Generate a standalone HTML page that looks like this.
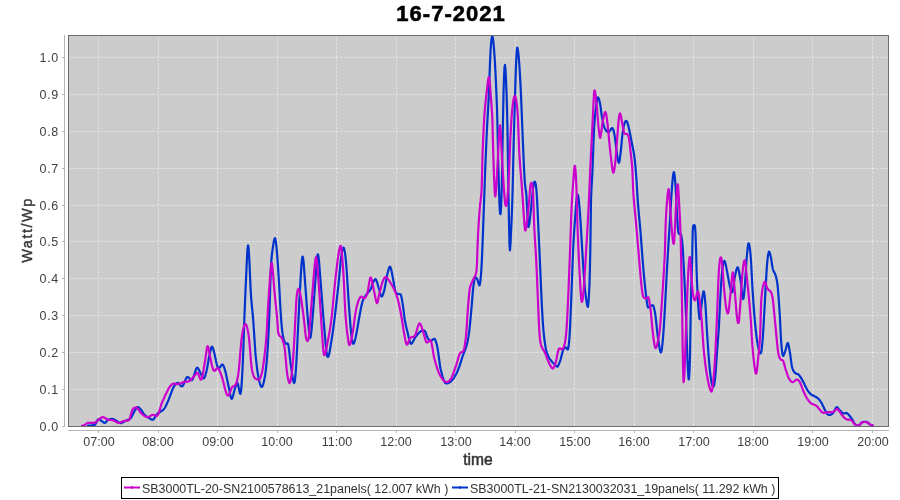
<!DOCTYPE html>
<html><head><meta charset="utf-8"><title>16-7-2021</title>
<style>
html,body{margin:0;padding:0;background:#fff;}
body{width:900px;height:500px;position:relative;overflow:hidden;font-family:"Liberation Sans",sans-serif;color:#404040;}
#title{position:absolute;left:1px;width:900px;top:0.6px;text-align:center;font-weight:bold;font-size:22px;line-height:26px;color:#000;letter-spacing:1.0px;-webkit-text-stroke:0.6px #000;}
svg{position:absolute;left:0;top:0;}
#title,.xl,.yl,#xlab,#ylab,#legend span{will-change:transform;}
.g{stroke:#fff;stroke-width:1;stroke-dasharray:2 2;opacity:.56}
.a{stroke:#b4b4b4;stroke-width:1;shape-rendering:crispEdges}
.xl{position:absolute;top:434.6px;width:60px;text-align:center;font-size:12.5px;line-height:14px;}
.yl{position:absolute;left:20.7px;width:38px;text-align:right;font-size:12.5px;letter-spacing:0.7px;line-height:14px;}
#xlab{position:absolute;left:427.8px;width:100px;top:451.2px;text-align:center;font-size:15.6px;line-height:18px;color:#333;-webkit-text-stroke:0.5px #333;}
#ylab{position:absolute;left:-22.8px;top:221px;width:100px;height:18px;text-align:center;font-size:14.5px;letter-spacing:1.5px;line-height:18px;transform:rotate(-90deg);color:#333;-webkit-text-stroke:0.35px #333;}
#legend{position:absolute;left:121px;top:477px;width:656px;height:20px;border:1px solid #000;background:transparent;}
#legend span{position:absolute;top:4px;font-size:12.45px;line-height:14px;white-space:nowrap;color:#333;}
#legend i{position:absolute;top:9px;height:2px;width:16px;}
</style></head><body>
<div id="title">16-7-2021</div>
<svg width="900" height="500" viewBox="0 0 900 500">
<rect x="68" y="35" width="821" height="392" fill="#cccccc"/>
<line x1="98.5" y1="35.5" x2="98.5" y2="426" class="g"/><line x1="158.5" y1="35.5" x2="158.5" y2="426" class="g"/><line x1="217.5" y1="35.5" x2="217.5" y2="426" class="g"/><line x1="277.5" y1="35.5" x2="277.5" y2="426" class="g"/><line x1="336.5" y1="35.5" x2="336.5" y2="426" class="g"/><line x1="396.5" y1="35.5" x2="396.5" y2="426" class="g"/><line x1="455.5" y1="35.5" x2="455.5" y2="426" class="g"/><line x1="515.5" y1="35.5" x2="515.5" y2="426" class="g"/><line x1="574.5" y1="35.5" x2="574.5" y2="426" class="g"/><line x1="634.5" y1="35.5" x2="634.5" y2="426" class="g"/><line x1="693.5" y1="35.5" x2="693.5" y2="426" class="g"/><line x1="753.5" y1="35.5" x2="753.5" y2="426" class="g"/><line x1="812.5" y1="35.5" x2="812.5" y2="426" class="g"/><line x1="872.5" y1="35.5" x2="872.5" y2="426" class="g"/><line x1="68.5" y1="426.5" x2="888" y2="426.5" class="g"/><line x1="68.5" y1="389.5" x2="888" y2="389.5" class="g"/><line x1="68.5" y1="352.5" x2="888" y2="352.5" class="g"/><line x1="68.5" y1="315.5" x2="888" y2="315.5" class="g"/><line x1="68.5" y1="278.5" x2="888" y2="278.5" class="g"/><line x1="68.5" y1="241.5" x2="888" y2="241.5" class="g"/><line x1="68.5" y1="205.5" x2="888" y2="205.5" class="g"/><line x1="68.5" y1="168.5" x2="888" y2="168.5" class="g"/><line x1="68.5" y1="131.5" x2="888" y2="131.5" class="g"/><line x1="68.5" y1="94.5" x2="888" y2="94.5" class="g"/><line x1="68.5" y1="57.5" x2="888" y2="57.5" class="g"/>
<path d="M88.0 425.6 L88.5 425.6 L89.0 425.6 L89.5 425.6 L90.0 425.6 L90.5 425.5 L91.0 425.5 L91.3 425.5 L91.5 425.5 L92.0 425.4 L92.5 425.4 L93.0 425.3 L93.5 425.1 L94.0 425.0 L94.5 424.8 L94.9 424.7 L95.0 424.7 L95.5 424.1 L96.0 423.2 L96.5 422.1 L97.0 421.0 L97.5 420.1 L98.0 419.4 L98.4 419.3 L98.5 419.3 L99.0 419.4 L99.5 419.7 L100.0 419.9 L100.5 420.2 L101.0 420.5 L101.5 420.8 L102.0 421.2 L102.5 421.6 L103.0 422.0 L103.5 422.4 L104.0 422.7 L104.5 422.9 L104.7 422.9 L105.0 422.9 L105.5 422.6 L106.0 422.1 L106.5 421.4 L107.0 420.8 L107.5 420.2 L108.0 419.8 L108.2 419.7 L108.5 419.6 L109.0 419.4 L109.5 419.3 L110.0 419.2 L110.5 419.0 L111.0 419.0 L111.5 418.9 L112.0 418.9 L112.5 419.0 L112.7 419.0 L113.0 419.1 L113.5 419.2 L114.0 419.5 L114.5 419.7 L115.0 420.0 L115.5 420.3 L116.0 420.5 L116.5 420.8 L117.0 421.1 L117.5 421.5 L118.0 421.9 L118.5 422.3 L119.0 422.6 L119.5 422.9 L120.0 423.1 L120.5 423.2 L120.7 423.2 L121.0 423.2 L121.5 423.0 L122.0 422.8 L122.5 422.6 L123.0 422.3 L123.5 422.0 L124.0 421.7 L124.5 421.4 L125.0 421.1 L125.1 421.1 L125.5 420.9 L126.0 420.7 L126.5 420.5 L127.0 420.2 L127.5 420.0 L128.0 419.8 L128.5 419.5 L129.0 419.3 L129.5 419.0 L130.0 418.7 L130.4 418.4 L130.5 418.3 L131.0 417.8 L131.5 417.0 L132.0 416.0 L132.5 414.9 L133.0 413.9 L133.5 412.9 L134.0 412.0 L134.5 411.2 L135.0 410.3 L135.5 409.5 L136.0 408.7 L136.5 408.1 L137.0 407.6 L137.5 407.2 L137.6 407.2 L138.0 407.2 L138.5 407.3 L139.0 407.6 L139.5 408.0 L140.0 408.5 L140.2 408.7 L140.5 409.0 L141.0 409.6 L141.5 410.4 L142.0 411.1 L142.5 411.9 L143.0 412.7 L143.5 413.5 L144.0 414.1 L144.5 414.7 L144.7 414.9 L145.0 415.2 L145.5 415.6 L146.0 416.0 L146.5 416.4 L147.0 416.7 L147.5 417.1 L148.0 417.4 L148.5 417.7 L149.0 418.0 L149.5 418.3 L150.0 418.6 L150.5 419.0 L151.0 419.2 L151.5 419.5 L152.0 419.6 L152.5 419.7 L152.7 419.7 L153.0 419.6 L153.5 419.3 L154.0 418.7 L154.5 418.0 L155.0 417.2 L155.5 416.3 L156.0 415.5 L156.5 414.7 L157.0 414.1 L157.1 414.0 L157.5 413.6 L158.0 413.2 L158.5 412.9 L159.0 412.5 L159.5 412.3 L160.0 412.0 L160.5 411.7 L161.0 411.4 L161.5 411.1 L162.0 410.8 L162.5 410.4 L163.0 410.0 L163.5 409.5 L164.0 408.9 L164.2 408.7 L164.5 408.3 L165.0 407.5 L165.5 406.6 L166.0 405.6 L166.5 404.5 L167.0 403.4 L167.5 402.3 L167.8 401.6 L168.0 401.2 L168.5 400.0 L169.0 398.7 L169.5 397.4 L170.0 396.1 L170.5 394.7 L171.0 393.4 L171.5 392.1 L172.0 390.8 L172.5 389.5 L173.0 388.4 L173.5 387.3 L174.0 386.4 L174.5 385.6 L175.0 384.9 L175.5 384.3 L176.0 383.8 L176.5 383.4 L177.0 383.1 L177.5 382.9 L177.6 382.9 L178.0 382.9 L178.5 383.2 L179.0 383.7 L179.5 384.3 L180.0 384.9 L180.5 385.5 L181.0 386.0 L181.5 386.3 L182.0 386.4 L182.5 386.1 L183.0 385.5 L183.5 384.6 L184.0 383.4 L184.5 382.2 L185.0 380.9 L185.5 379.7 L186.0 378.6 L186.5 377.7 L187.0 377.2 L187.3 377.0 L187.5 377.0 L188.0 377.1 L188.5 377.4 L189.0 377.9 L189.5 378.5 L190.0 379.1 L190.5 379.6 L191.0 380.0 L191.5 380.2 L191.8 380.2 L192.0 380.1 L192.5 379.5 L193.0 378.5 L193.5 377.2 L194.0 375.6 L194.5 373.9 L195.0 372.3 L195.5 370.7 L196.0 369.3 L196.5 368.3 L197.0 367.8 L197.5 367.7 L197.6 367.8 L198.0 368.2 L198.5 369.0 L199.0 370.0 L199.5 371.0 L200.0 372.1 L200.5 373.1 L200.7 373.5 L201.0 374.1 L201.5 375.1 L202.0 376.1 L202.5 377.0 L203.0 377.8 L203.5 378.3 L204.0 378.3 L204.5 377.6 L205.0 376.4 L205.5 374.8 L206.0 372.9 L206.5 371.0 L207.0 368.8 L207.5 366.1 L208.0 363.2 L208.5 360.2 L209.0 357.4 L209.5 355.0 L210.0 352.7 L210.5 350.4 L211.0 348.4 L211.5 347.1 L212.0 346.6 L212.5 347.1 L213.0 348.4 L213.5 350.1 L214.0 352.0 L214.5 354.0 L215.0 356.1 L215.5 358.5 L216.0 361.0 L216.5 363.2 L217.0 365.0 L217.5 366.4 L218.0 367.4 L218.5 368.0 L218.8 368.2 L219.0 368.2 L219.5 367.9 L220.0 367.3 L220.5 366.5 L221.0 365.7 L221.5 365.0 L222.0 364.6 L222.4 364.6 L222.5 364.6 L223.0 365.1 L223.5 365.9 L224.0 367.0 L224.5 368.4 L225.0 370.1 L225.1 370.4 L225.5 371.9 L226.0 374.1 L226.5 376.4 L227.0 378.9 L227.5 381.3 L228.0 383.7 L228.5 386.0 L229.0 388.3 L229.5 390.9 L230.0 393.4 L230.5 395.7 L231.0 397.5 L231.5 398.6 L231.8 398.8 L232.0 398.7 L232.5 397.8 L233.0 396.0 L233.5 393.9 L234.0 391.8 L234.5 390.0 L235.0 388.5 L235.5 387.0 L236.0 385.5 L236.5 384.2 L237.0 383.3 L237.2 383.0 L237.5 383.0 L238.0 384.3 L238.5 386.6 L239.0 389.3 L239.5 391.8 L240.0 393.5 L240.4 393.8 L240.5 393.7 L241.0 391.2 L241.5 385.9 L242.0 378.4 L242.5 369.0 L243.0 358.3 L243.1 356.0 L243.5 344.9 L244.0 328.8 L244.3 320.0 L244.5 314.8 L245.0 302.3 L245.5 290.6 L245.8 284.0 L246.0 279.6 L246.5 268.1 L247.0 257.3 L247.5 249.1 L248.0 245.4 L248.1 245.3 L248.5 247.4 L249.0 254.1 L249.5 264.0 L250.0 275.4 L250.5 286.4 L251.0 295.6 L251.2 298.4 L251.5 301.9 L252.0 307.1 L252.5 312.2 L253.0 317.6 L253.2 320.0 L253.5 324.0 L254.0 331.5 L254.5 339.4 L255.0 347.1 L255.5 353.8 L255.7 356.0 L256.0 359.0 L256.5 363.6 L257.0 367.8 L257.5 371.5 L258.0 374.7 L258.5 377.5 L259.0 379.9 L259.3 381.2 L259.5 382.0 L260.0 383.8 L260.5 385.3 L261.0 386.4 L261.5 387.0 L261.6 387.0 L262.0 386.8 L262.5 386.1 L263.0 384.8 L263.5 383.0 L264.0 380.9 L264.5 378.6 L264.7 377.6 L265.0 376.0 L265.5 372.6 L266.0 368.5 L266.5 363.6 L267.0 357.8 L267.5 351.3 L267.8 347.0 L268.0 343.8 L268.5 334.0 L269.0 322.4 L269.5 310.0 L270.0 294.9 L270.5 278.3 L271.0 266.0 L271.5 258.9 L272.0 253.8 L272.5 250.0 L272.8 248.0 L273.0 246.7 L273.5 243.4 L274.0 240.6 L274.5 238.7 L275.0 238.1 L275.5 239.5 L276.0 242.9 L276.5 247.7 L277.0 253.4 L277.3 257.0 L277.5 259.5 L278.0 266.5 L278.5 274.2 L279.0 282.3 L279.1 284.0 L279.5 291.3 L280.0 301.2 L280.5 310.0 L281.0 317.3 L281.5 323.7 L282.0 329.1 L282.5 333.2 L282.7 334.4 L283.0 336.0 L283.5 338.2 L284.0 340.1 L284.5 341.7 L285.0 342.8 L285.4 343.4 L285.5 343.5 L286.0 343.7 L286.5 343.5 L287.0 343.3 L287.5 343.3 L288.0 344.1 L288.1 344.3 L288.5 346.0 L289.0 349.4 L289.5 353.7 L290.0 358.4 L290.5 362.8 L290.8 365.0 L291.0 366.4 L291.5 369.9 L292.0 373.3 L292.5 376.6 L293.0 379.4 L293.5 381.6 L294.0 383.0 L294.5 382.6 L295.0 379.7 L295.5 374.7 L296.0 368.1 L296.2 365.0 L296.5 359.9 L297.0 350.2 L297.5 339.7 L298.0 329.1 L298.2 325.0 L298.5 318.9 L299.0 308.5 L299.5 298.5 L299.8 293.0 L300.0 289.4 L300.5 280.5 L301.0 271.9 L301.5 264.6 L302.0 259.3 L302.5 256.6 L302.9 257.0 L303.0 257.5 L303.5 261.4 L304.0 267.3 L304.5 274.3 L305.0 281.4 L305.2 284.0 L305.5 287.9 L306.0 294.8 L306.5 301.8 L307.0 308.7 L307.5 315.2 L307.9 320.0 L308.0 321.1 L308.5 326.8 L309.0 331.9 L309.5 335.8 L310.0 337.8 L310.2 338.0 L310.5 337.4 L311.0 334.6 L311.5 330.1 L312.0 324.6 L312.4 320.0 L312.5 318.8 L313.0 312.6 L313.5 305.9 L314.0 298.9 L314.5 291.9 L315.0 285.3 L315.1 284.0 L315.5 278.7 L316.0 271.5 L316.5 264.7 L317.0 258.9 L317.5 255.2 L317.8 254.3 L318.0 254.4 L318.5 256.7 L319.0 261.3 L319.5 267.5 L320.0 274.1 L320.5 280.4 L321.0 286.5 L321.5 293.0 L322.0 299.6 L322.5 306.3 L323.0 312.8 L323.5 318.9 L323.6 320.0 L324.0 324.7 L324.5 330.7 L325.0 336.7 L325.5 342.3 L326.0 347.4 L326.5 351.7 L327.0 354.9 L327.5 356.6 L327.7 356.9 L328.0 356.9 L328.5 356.1 L329.0 354.5 L329.5 352.2 L330.0 349.5 L330.5 346.5 L331.0 343.4 L331.3 341.6 L331.5 340.4 L332.0 337.3 L332.5 334.0 L333.0 330.5 L333.5 326.9 L334.0 323.1 L334.4 320.0 L334.5 319.2 L335.0 315.1 L335.5 310.9 L336.0 306.6 L336.5 302.2 L337.0 297.7 L337.5 293.2 L338.0 288.6 L338.5 284.0 L339.0 279.1 L339.5 273.7 L340.0 268.3 L340.5 263.2 L341.0 258.6 L341.2 257.0 L341.5 254.9 L342.0 251.8 L342.5 249.6 L343.0 248.1 L343.5 247.6 L344.0 248.2 L344.5 250.1 L345.0 253.1 L345.5 257.1 L346.0 262.0 L346.5 268.1 L347.0 275.3 L347.5 283.3 L348.0 291.4 L348.5 299.3 L348.9 305.0 L349.0 306.4 L349.5 313.2 L350.0 319.9 L350.5 326.2 L351.0 331.6 L351.2 333.4 L351.5 335.9 L352.0 339.5 L352.5 342.1 L353.0 343.6 L353.4 343.8 L353.5 343.7 L354.0 343.0 L354.5 341.7 L355.0 340.0 L355.5 338.0 L356.0 335.7 L356.1 335.2 L356.5 333.2 L357.0 330.5 L357.5 327.6 L358.0 324.7 L358.5 321.7 L359.0 318.8 L359.5 316.0 L360.0 313.3 L360.5 310.5 L361.0 307.9 L361.5 305.6 L362.0 303.5 L362.5 301.8 L363.0 300.2 L363.5 299.0 L363.8 298.4 L364.0 298.0 L364.5 297.2 L365.0 296.5 L365.5 295.8 L366.0 295.1 L366.5 294.4 L366.9 293.9 L367.0 293.8 L367.5 293.1 L368.0 292.5 L368.5 292.0 L369.0 291.4 L369.5 290.8 L370.0 290.1 L370.5 289.4 L371.0 288.4 L371.5 287.0 L372.0 285.4 L372.5 283.9 L373.0 282.6 L373.2 282.2 L373.5 281.6 L374.0 280.7 L374.5 279.9 L375.0 279.3 L375.5 279.2 L375.9 279.5 L376.0 279.6 L376.5 280.7 L377.0 282.1 L377.5 283.8 L378.0 285.6 L378.5 287.3 L378.6 287.6 L379.0 288.9 L379.5 290.8 L380.0 292.6 L380.5 294.3 L381.0 295.7 L381.3 296.2 L381.5 296.4 L382.0 296.4 L382.5 295.6 L383.0 294.4 L383.5 292.8 L384.0 291.2 L384.5 289.3 L385.0 286.8 L385.5 284.1 L386.0 281.2 L386.5 278.4 L387.0 275.8 L387.5 273.6 L387.6 273.2 L388.0 271.7 L388.5 269.8 L389.0 268.2 L389.5 267.0 L390.0 266.7 L390.3 266.9 L390.5 267.3 L391.0 268.8 L391.5 270.9 L392.0 273.5 L392.5 276.1 L393.0 278.6 L393.5 281.2 L394.0 284.2 L394.5 287.1 L395.0 289.7 L395.5 291.6 L395.7 292.1 L396.0 292.6 L396.5 293.2 L397.0 293.5 L397.5 293.7 L398.0 293.9 L398.5 294.0 L399.0 294.1 L399.5 294.1 L400.0 294.2 L400.5 294.4 L400.6 294.5 L401.0 295.2 L401.5 297.2 L402.0 299.9 L402.5 303.1 L402.9 305.6 L403.0 306.2 L403.5 310.0 L404.0 314.2 L404.5 318.1 L404.8 320.0 L405.0 321.1 L405.5 323.6 L406.0 325.9 L406.5 328.0 L407.0 330.0 L407.4 331.6 L407.5 332.0 L408.0 334.2 L408.5 336.4 L409.0 338.7 L409.5 340.7 L410.0 342.3 L410.5 343.4 L411.0 343.8 L411.5 343.6 L412.0 343.1 L412.5 342.4 L413.0 341.5 L413.5 340.6 L414.0 339.5 L414.5 338.6 L415.0 337.7 L415.5 337.0 L416.0 336.4 L416.5 335.8 L417.0 335.1 L417.5 334.5 L418.0 333.9 L418.5 333.3 L419.0 332.8 L419.5 332.3 L420.0 331.8 L420.5 331.5 L420.9 331.2 L421.0 331.1 L421.5 330.9 L422.0 330.7 L422.5 330.6 L423.0 330.5 L423.5 330.5 L424.0 330.6 L424.5 330.7 L425.0 331.2 L425.5 332.2 L426.0 333.5 L426.5 335.0 L427.0 336.5 L427.5 337.8 L428.0 338.7 L428.1 338.8 L428.5 339.2 L429.0 339.7 L429.5 340.1 L430.0 340.3 L430.5 340.5 L430.8 340.6 L431.0 340.6 L431.5 340.5 L432.0 340.2 L432.5 339.8 L433.0 339.4 L433.5 339.0 L434.0 338.8 L434.4 338.8 L434.5 338.8 L435.0 339.3 L435.5 340.4 L436.0 341.9 L436.5 343.6 L437.0 345.6 L437.1 346.0 L437.5 347.9 L438.0 351.0 L438.5 354.6 L439.0 358.4 L439.5 362.2 L440.0 365.7 L440.5 368.5 L440.7 369.4 L441.0 370.6 L441.5 372.6 L442.0 374.5 L442.5 376.3 L443.0 377.9 L443.5 379.4 L444.0 380.7 L444.5 381.7 L445.0 382.6 L445.5 383.1 L446.0 383.4 L446.1 383.4 L446.5 383.4 L447.0 383.4 L447.5 383.3 L448.0 383.2 L448.5 383.0 L449.0 382.8 L449.5 382.5 L450.0 382.1 L450.5 381.8 L451.0 381.3 L451.5 380.9 L452.0 380.3 L452.5 379.8 L453.0 379.2 L453.5 378.5 L454.0 377.8 L454.2 377.5 L454.5 377.0 L455.0 376.2 L455.5 375.3 L456.0 374.4 L456.5 373.4 L457.0 372.3 L457.5 371.2 L458.0 370.0 L458.5 368.7 L459.0 367.4 L459.5 366.1 L459.6 365.8 L460.0 364.6 L460.5 363.1 L461.0 361.5 L461.5 359.8 L462.0 358.2 L462.5 356.6 L462.7 356.0 L463.0 355.1 L463.5 353.8 L464.0 352.6 L464.5 351.4 L465.0 350.1 L465.5 348.8 L466.0 347.4 L466.3 346.5 L466.5 345.8 L467.0 344.0 L467.5 341.9 L468.0 339.3 L468.5 336.4 L469.0 333.0 L469.5 328.9 L470.0 324.1 L470.5 318.9 L471.0 313.5 L471.5 308.0 L472.0 302.1 L472.5 295.7 L473.0 289.9 L473.3 287.0 L473.5 285.3 L474.0 281.7 L474.5 279.0 L475.0 277.5 L475.3 277.2 L475.5 277.2 L476.0 277.5 L476.5 278.1 L477.0 278.8 L477.1 279.0 L477.5 279.9 L478.0 281.5 L478.5 283.2 L479.0 284.7 L479.4 285.3 L479.5 285.3 L480.0 283.8 L480.5 280.0 L481.0 274.5 L481.2 272.0 L481.5 267.4 L482.0 257.1 L482.3 250.0 L482.5 245.0 L483.0 231.7 L483.5 217.8 L483.6 215.0 L484.0 203.6 L484.5 189.0 L485.0 175.0 L485.5 162.1 L486.0 150.0 L486.5 138.6 L487.0 128.0 L487.5 118.8 L488.0 110.6 L488.5 101.9 L488.6 100.0 L489.0 90.7 L489.5 76.8 L490.0 62.9 L490.5 51.7 L490.6 50.0 L491.0 44.4 L491.5 39.4 L492.0 36.7 L492.4 36.5 L492.5 36.7 L493.0 39.0 L493.5 43.2 L494.0 48.8 L494.5 55.5 L494.6 57.0 L495.0 63.6 L495.5 73.3 L496.0 84.0 L496.5 95.4 L497.0 108.8 L497.2 115.0 L497.5 127.0 L498.0 151.4 L498.2 160.0 L498.5 171.6 L499.0 190.1 L499.5 205.0 L500.0 213.4 L500.5 214.2 L501.0 208.2 L501.5 195.7 L501.8 185.0 L502.0 175.4 L502.5 146.0 L503.0 118.5 L503.5 93.9 L503.6 90.0 L504.0 77.2 L504.5 67.4 L505.0 64.9 L505.5 69.9 L506.0 80.0 L506.4 90.0 L506.5 92.6 L507.0 108.5 L507.4 125.0 L507.5 130.1 L508.0 163.9 L508.4 190.0 L508.5 195.4 L509.0 223.0 L509.5 244.2 L509.9 250.3 L510.0 250.0 L510.5 243.7 L511.0 232.9 L511.3 226.0 L511.5 221.6 L512.0 209.7 L512.5 195.0 L513.0 173.1 L513.5 150.0 L514.0 131.3 L514.5 113.7 L514.9 100.0 L515.0 96.6 L515.5 79.6 L516.0 65.0 L516.5 54.3 L517.0 48.2 L517.2 47.6 L517.5 48.0 L518.0 50.5 L518.5 54.8 L519.0 60.6 L519.4 66.0 L519.5 67.5 L520.0 75.6 L520.5 85.1 L521.0 95.6 L521.2 100.0 L521.5 107.1 L522.0 119.8 L522.5 132.7 L522.8 140.0 L523.0 144.7 L523.5 156.4 L524.0 167.5 L524.5 177.2 L524.8 182.0 L525.0 184.5 L525.5 188.2 L526.0 191.0 L526.4 195.0 L526.5 196.5 L527.0 206.9 L527.5 217.0 L528.0 224.5 L528.4 227.0 L528.5 226.9 L529.0 225.2 L529.5 222.2 L530.0 218.2 L530.5 213.7 L531.0 208.9 L531.1 208.0 L531.5 203.9 L532.0 198.1 L532.5 192.9 L532.6 192.0 L533.0 188.7 L533.5 185.3 L534.0 182.8 L534.3 182.0 L534.5 181.7 L535.0 181.8 L535.5 183.3 L536.0 186.2 L536.5 191.0 L537.0 198.4 L537.5 208.4 L538.0 219.4 L538.3 226.0 L538.5 230.3 L539.0 241.4 L539.5 252.6 L540.0 263.8 L540.1 266.0 L540.5 275.0 L541.0 286.5 L541.5 297.6 L541.9 306.0 L542.0 308.0 L542.5 317.1 L543.0 324.8 L543.5 331.0 L543.7 333.0 L544.0 335.8 L544.5 340.0 L545.0 343.7 L545.5 346.9 L546.0 349.4 L546.4 351.0 L546.5 351.3 L547.0 353.0 L547.5 354.5 L548.0 355.8 L548.5 356.9 L549.0 357.8 L549.1 358.0 L549.5 358.6 L550.0 359.3 L550.5 359.9 L551.0 360.5 L551.5 361.1 L552.0 361.7 L552.5 362.2 L553.0 362.8 L553.5 363.3 L553.6 363.4 L554.0 363.8 L554.5 364.4 L555.0 365.0 L555.5 365.5 L556.0 365.9 L556.5 366.3 L557.0 366.5 L557.2 366.6 L557.5 366.6 L558.0 366.1 L558.5 365.1 L559.0 364.0 L559.5 362.6 L559.9 361.6 L560.0 361.3 L560.5 359.8 L561.0 357.9 L561.5 355.9 L562.0 353.9 L562.5 352.0 L563.0 350.4 L563.5 349.2 L564.0 348.4 L564.5 347.8 L565.0 347.4 L565.3 347.3 L565.5 347.3 L566.0 347.6 L566.5 348.3 L567.0 348.9 L567.5 349.4 L567.8 349.5 L568.0 349.3 L568.5 347.1 L569.0 342.8 L569.5 336.5 L569.6 335.0 L570.0 327.9 L570.5 317.1 L571.0 304.9 L571.5 292.4 L571.6 290.0 L572.0 279.7 L572.5 265.9 L573.0 252.8 L573.4 244.0 L573.5 242.1 L574.0 233.7 L574.5 226.5 L575.0 219.7 L575.2 217.0 L575.5 212.7 L576.0 205.7 L576.5 199.9 L576.6 199.0 L577.0 196.3 L577.5 194.8 L577.9 195.0 L578.0 195.3 L578.5 197.8 L579.0 202.1 L579.5 207.7 L580.0 214.2 L580.2 217.0 L580.5 221.4 L581.0 229.4 L581.5 237.9 L582.0 246.4 L582.4 253.0 L582.5 254.6 L583.0 262.7 L583.5 270.6 L584.0 278.0 L584.5 284.2 L585.0 289.3 L585.3 292.0 L585.5 293.7 L586.0 297.8 L586.5 301.4 L587.0 304.3 L587.5 306.2 L587.8 306.9 L588.0 306.7 L588.5 302.5 L589.0 294.3 L589.4 286.0 L589.5 283.5 L590.0 264.7 L590.3 250.0 L590.5 236.1 L591.0 200.0 L591.5 188.0 L592.0 179.6 L592.5 170.0 L593.0 156.5 L593.5 141.9 L594.0 129.8 L594.1 128.0 L594.5 122.1 L595.0 116.5 L595.5 112.0 L596.0 107.6 L596.5 103.4 L597.0 100.0 L597.5 97.8 L597.7 97.5 L598.0 97.4 L598.5 98.0 L599.0 99.3 L599.5 101.2 L600.0 103.5 L600.2 104.5 L600.5 106.3 L601.0 110.2 L601.5 114.1 L601.8 116.0 L602.0 117.1 L602.5 119.8 L603.0 122.2 L603.5 124.5 L604.0 126.3 L604.5 127.7 L605.0 128.8 L605.5 129.7 L606.0 130.5 L606.5 131.1 L607.0 131.6 L607.5 132.0 L608.0 132.2 L608.1 132.2 L608.5 132.1 L609.0 131.8 L609.5 131.2 L610.0 130.5 L610.5 129.8 L611.0 129.1 L611.5 128.6 L612.0 128.2 L612.4 128.2 L612.5 128.2 L613.0 129.0 L613.5 130.4 L614.0 132.5 L614.5 135.0 L614.6 135.5 L615.0 138.1 L615.5 142.1 L616.0 146.5 L616.5 150.6 L616.7 152.0 L617.0 154.0 L617.5 157.3 L618.0 160.2 L618.5 162.2 L618.9 162.8 L619.0 162.8 L619.5 161.1 L620.0 157.8 L620.5 153.7 L620.7 152.0 L621.0 149.3 L621.5 143.9 L622.0 138.5 L622.5 134.0 L623.0 130.5 L623.5 127.5 L624.0 125.1 L624.3 124.1 L624.5 123.5 L625.0 122.3 L625.5 121.4 L626.0 120.9 L626.5 121.0 L627.0 121.7 L627.5 122.9 L628.0 124.5 L628.5 126.4 L628.8 127.7 L629.0 128.6 L629.5 130.9 L630.0 133.4 L630.5 136.0 L631.0 138.6 L631.5 141.2 L632.0 143.7 L632.5 146.2 L633.0 148.7 L633.5 151.4 L634.0 154.3 L634.2 155.6 L634.5 157.7 L635.0 162.1 L635.5 167.5 L636.0 173.5 L636.5 180.0 L637.0 188.0 L637.5 196.9 L637.8 201.4 L638.0 204.0 L638.5 209.9 L639.0 215.4 L639.5 220.7 L640.0 226.2 L640.5 232.0 L641.0 238.3 L641.5 245.0 L642.0 251.7 L642.5 258.3 L643.0 264.6 L643.2 267.0 L643.5 270.5 L644.0 276.0 L644.5 281.2 L645.0 286.1 L645.5 290.7 L645.9 294.0 L646.0 294.8 L646.5 298.9 L647.0 302.8 L647.5 305.8 L648.0 307.4 L648.2 307.5 L648.5 307.4 L649.0 307.1 L649.5 306.8 L650.0 306.4 L650.4 306.2 L650.5 306.1 L651.0 305.9 L651.5 305.6 L652.0 305.4 L652.5 305.2 L652.7 305.2 L653.0 305.3 L653.5 306.2 L654.0 307.9 L654.5 310.0 L654.9 312.0 L655.0 312.5 L655.5 315.9 L656.0 320.1 L656.5 324.8 L657.0 329.6 L657.5 334.1 L658.0 338.0 L658.5 341.5 L659.0 344.8 L659.5 347.8 L660.0 350.2 L660.5 351.9 L660.8 352.4 L661.0 352.4 L661.5 351.0 L662.0 347.9 L662.5 343.4 L663.0 338.0 L663.5 331.5 L664.0 323.8 L664.5 315.3 L664.8 310.0 L665.0 306.4 L665.5 296.9 L666.0 287.2 L666.5 277.8 L666.6 276.0 L667.0 268.9 L667.5 260.2 L668.0 251.6 L668.4 245.0 L668.5 243.4 L669.0 235.5 L669.5 227.8 L669.8 223.0 L670.0 219.7 L670.5 210.9 L671.0 202.0 L671.5 193.9 L671.6 192.4 L672.0 186.9 L672.5 180.8 L673.0 176.0 L673.5 172.9 L673.8 172.2 L674.0 172.3 L674.5 174.6 L675.0 179.2 L675.5 185.6 L675.6 187.0 L676.0 193.9 L676.5 204.4 L677.0 214.0 L677.5 222.5 L678.0 229.6 L678.3 232.0 L678.5 232.8 L679.0 233.9 L679.5 234.0 L680.0 233.8 L680.5 233.8 L681.0 234.7 L681.5 236.8 L682.0 240.1 L682.5 245.0 L683.0 252.6 L683.5 262.0 L684.0 271.4 L684.5 281.2 L685.0 291.6 L685.5 303.0 L686.0 316.3 L686.3 325.0 L686.5 331.1 L687.0 347.3 L687.3 356.0 L687.5 361.0 L688.0 371.5 L688.5 378.1 L688.7 379.4 L689.0 378.8 L689.5 370.9 L690.0 356.0 L690.5 325.1 L690.9 300.0 L691.0 296.0 L691.5 280.1 L692.0 265.4 L692.2 258.0 L692.5 240.7 L692.7 232.0 L693.0 227.3 L693.3 225.6 L693.5 225.4 L694.0 225.1 L694.5 225.2 L694.8 225.6 L695.0 226.5 L695.5 233.0 L696.0 247.6 L696.5 266.7 L696.8 276.0 L697.0 281.0 L697.5 292.3 L698.0 301.5 L698.1 303.0 L698.5 308.7 L699.0 315.0 L699.5 318.9 L699.9 319.2 L700.0 318.8 L700.5 315.2 L701.0 309.9 L701.5 304.7 L701.7 303.0 L702.0 300.6 L702.5 296.7 L703.0 293.3 L703.5 291.3 L704.0 291.7 L704.5 294.6 L705.0 299.4 L705.3 303.0 L705.5 305.8 L706.0 314.4 L706.5 323.3 L706.6 325.0 L707.0 331.5 L707.5 339.5 L708.0 347.0 L708.5 354.0 L709.0 360.5 L709.5 366.4 L710.0 371.3 L710.1 372.2 L710.5 375.5 L711.0 379.1 L711.5 382.0 L712.0 384.3 L712.5 385.9 L713.0 386.6 L713.5 386.5 L714.0 385.4 L714.5 383.1 L715.0 379.5 L715.2 377.6 L715.5 374.2 L716.0 367.3 L716.5 359.7 L717.0 352.4 L717.5 345.7 L718.0 339.2 L718.5 332.4 L718.8 328.0 L719.0 324.6 L719.5 314.4 L720.0 303.7 L720.2 300.0 L720.5 294.8 L721.0 286.4 L721.5 278.8 L722.0 272.5 L722.4 268.8 L722.5 268.1 L723.0 264.9 L723.5 262.5 L724.0 261.2 L724.5 260.9 L724.7 261.2 L725.0 261.9 L725.5 263.7 L726.0 266.0 L726.5 268.6 L726.9 270.6 L727.0 271.1 L727.5 273.7 L728.0 276.6 L728.5 279.4 L729.0 282.1 L729.5 284.6 L729.6 285.0 L730.0 286.7 L730.5 288.7 L731.0 290.5 L731.5 291.7 L732.0 292.3 L732.3 292.2 L732.5 291.9 L733.0 289.8 L733.5 286.4 L734.0 282.6 L734.5 278.8 L735.0 276.0 L735.5 273.8 L736.0 271.5 L736.5 269.6 L737.0 268.1 L737.5 267.4 L737.7 267.4 L738.0 267.7 L738.5 269.2 L739.0 271.5 L739.5 274.3 L740.0 277.3 L740.4 279.6 L740.5 280.2 L741.0 283.9 L741.5 288.3 L742.0 292.8 L742.5 296.5 L743.0 298.8 L743.1 299.0 L743.5 298.4 L744.0 294.9 L744.5 289.7 L744.9 285.0 L745.0 283.8 L745.5 276.5 L746.0 268.2 L746.5 260.5 L746.7 258.0 L747.0 254.6 L747.5 249.3 L748.0 245.3 L748.5 243.4 L749.0 243.7 L749.5 245.8 L750.0 249.4 L750.5 254.4 L750.8 258.0 L751.0 260.8 L751.5 269.6 L752.0 279.6 L752.5 288.8 L752.6 290.4 L753.0 296.5 L753.5 303.8 L754.0 310.7 L754.5 316.9 L754.6 318.0 L755.0 322.4 L755.5 327.5 L756.0 332.2 L756.5 336.5 L757.0 340.2 L757.5 343.4 L758.0 346.1 L758.5 348.5 L759.0 350.5 L759.5 352.0 L760.0 353.0 L760.5 353.3 L760.7 353.3 L761.0 352.8 L761.5 350.5 L762.0 346.5 L762.5 341.2 L762.9 336.0 L763.0 334.6 L763.5 326.7 L764.0 317.8 L764.5 308.6 L764.7 305.0 L765.0 299.6 L765.5 290.1 L766.0 280.9 L766.5 272.4 L767.0 265.2 L767.5 259.4 L767.9 256.2 L768.0 255.6 L768.5 252.9 L769.0 251.7 L769.2 251.7 L769.5 252.2 L770.0 253.6 L770.5 255.7 L771.0 258.0 L771.5 260.9 L772.0 264.3 L772.5 267.4 L772.8 268.8 L773.0 269.5 L773.5 270.9 L774.0 271.9 L774.5 272.8 L775.0 273.8 L775.5 275.1 L776.0 276.8 L776.5 278.8 L777.0 281.3 L777.3 283.2 L777.5 284.7 L778.0 289.9 L778.5 296.3 L778.6 297.6 L779.0 303.1 L779.5 310.7 L780.0 319.0 L780.5 330.0 L780.9 338.0 L781.0 339.4 L781.5 345.8 L782.0 350.9 L782.5 354.4 L783.0 356.0 L783.2 356.0 L783.5 355.6 L784.0 354.6 L784.5 353.3 L785.0 351.8 L785.4 350.6 L785.5 350.3 L786.0 348.5 L786.5 346.4 L787.0 344.5 L787.5 343.2 L787.7 343.0 L788.0 343.1 L788.5 344.6 L789.0 347.1 L789.5 350.1 L789.9 352.4 L790.0 353.0 L790.5 356.4 L791.0 360.3 L791.5 364.1 L792.0 366.9 L792.2 367.7 L792.5 368.6 L793.0 369.9 L793.5 370.9 L794.0 371.7 L794.5 372.4 L795.0 372.9 L795.3 373.1 L795.5 373.2 L796.0 373.5 L796.5 373.7 L797.0 373.8 L797.5 374.0 L798.0 374.2 L798.5 374.5 L798.9 374.9 L799.0 375.0 L799.5 375.6 L800.0 376.3 L800.5 377.0 L801.0 377.8 L801.5 378.6 L802.0 379.5 L802.5 380.4 L803.0 381.4 L803.4 382.1 L803.5 382.3 L804.0 383.3 L804.5 384.4 L805.0 385.5 L805.5 386.6 L806.0 387.6 L806.5 388.6 L806.7 388.9 L807.0 389.4 L807.5 390.2 L808.0 390.9 L808.5 391.6 L809.0 392.2 L809.5 392.8 L810.0 393.4 L810.5 393.9 L811.0 394.3 L811.1 394.4 L811.5 394.7 L812.0 395.0 L812.5 395.3 L813.0 395.6 L813.5 395.8 L814.0 396.1 L814.5 396.3 L815.0 396.5 L815.5 396.7 L816.0 397.0 L816.5 397.3 L817.0 397.6 L817.2 397.8 L817.5 398.0 L818.0 398.5 L818.5 398.9 L819.0 399.4 L819.5 400.0 L820.0 400.6 L820.5 401.3 L821.0 402.0 L821.1 402.2 L821.5 402.9 L822.0 403.8 L822.5 404.9 L823.0 406.0 L823.5 407.1 L824.0 408.1 L824.4 408.9 L824.5 409.1 L825.0 410.1 L825.5 411.1 L826.0 412.1 L826.5 412.9 L827.0 413.7 L827.2 413.9 L827.5 414.2 L828.0 414.6 L828.5 414.8 L829.0 415.0 L829.5 415.0 L830.0 415.0 L830.5 414.9 L831.0 414.6 L831.5 414.3 L832.0 414.0 L832.5 413.6 L832.8 413.3 L833.0 413.1 L833.5 412.4 L834.0 411.5 L834.5 410.5 L835.0 409.5 L835.5 408.6 L836.0 407.8 L836.5 407.3 L837.0 407.2 L837.5 407.5 L838.0 408.0 L838.5 408.6 L839.0 409.4 L839.5 410.0 L840.0 410.6 L840.5 411.1 L841.0 411.6 L841.5 412.1 L842.0 412.5 L842.5 412.9 L843.0 413.2 L843.3 413.3 L843.5 413.3 L844.0 413.4 L844.5 413.3 L845.0 413.2 L845.5 413.1 L846.0 413.0 L846.5 413.1 L846.7 413.1 L847.0 413.2 L847.5 413.6 L848.0 414.0 L848.5 414.5 L849.0 415.1 L849.4 415.6 L849.5 415.7 L850.0 416.3 L850.5 417.0 L851.0 417.7 L851.5 418.4 L852.0 419.1 L852.2 419.4 L852.5 419.9 L853.0 420.8 L853.5 421.8 L854.0 422.8 L854.5 423.7 L855.0 424.4 L855.5 424.9 L856.0 425.3 L856.5 425.5 L857.0 425.6 L857.5 425.6 L858.0 425.5 L858.5 425.4 L859.0 425.2 L859.4 425.0 L859.5 424.9 L860.0 424.5 L860.5 423.9 L861.0 423.3 L861.5 422.7 L862.0 422.3 L862.2 422.2 L862.5 422.1 L863.0 422.0 L863.5 421.9 L864.0 421.8 L864.5 421.8 L865.0 421.8 L865.5 421.8 L866.0 421.8 L866.5 421.9 L866.7 422.0 L867.0 422.1 L867.5 422.4 L868.0 422.8 L868.5 423.2 L869.0 423.7 L869.5 424.1 L870.0 424.4 L870.5 424.7 L871.0 424.9 L871.5 425.1 L872.0 425.3 L872.5 425.5 L872.8 425.6" fill="none" stroke="#0033cc" stroke-width="2.2" stroke-linejoin="round" stroke-linecap="round"/>
<path d="M82.0 425.8 L82.5 425.7 L83.0 425.6 L83.5 425.5 L84.0 425.3 L84.2 425.2 L84.5 425.1 L85.0 424.7 L85.5 424.4 L86.0 424.0 L86.5 423.6 L87.0 423.2 L87.5 423.0 L87.8 422.9 L88.0 422.9 L88.5 422.8 L89.0 422.8 L89.5 422.8 L90.0 422.8 L90.5 422.8 L91.0 422.8 L91.5 422.9 L92.0 422.9 L92.5 422.9 L93.0 423.0 L93.5 422.9 L94.0 422.9 L94.5 422.8 L95.0 422.6 L95.5 422.3 L96.0 422.0 L96.5 421.6 L97.0 421.2 L97.5 420.8 L98.0 420.3 L98.5 419.8 L99.0 419.4 L99.5 418.9 L100.0 418.5 L100.5 418.1 L101.0 417.8 L101.5 417.5 L102.0 417.3 L102.5 417.2 L102.9 417.2 L103.0 417.2 L103.5 417.3 L104.0 417.5 L104.5 417.7 L105.0 418.0 L105.5 418.3 L106.0 418.6 L106.5 419.0 L107.0 419.2 L107.5 419.5 L108.0 419.7 L108.2 419.7 L108.5 419.8 L109.0 419.8 L109.5 419.9 L110.0 419.9 L110.5 420.0 L111.0 420.0 L111.5 420.0 L112.0 420.1 L112.5 420.2 L112.7 420.2 L113.0 420.3 L113.5 420.4 L114.0 420.7 L114.5 420.9 L115.0 421.2 L115.5 421.5 L116.0 421.8 L116.5 422.1 L117.0 422.4 L117.5 422.6 L118.0 422.8 L118.5 422.9 L118.9 422.9 L119.0 422.9 L119.5 422.8 L120.0 422.7 L120.5 422.5 L121.0 422.2 L121.5 421.9 L122.0 421.7 L122.5 421.4 L123.0 421.2 L123.3 421.1 L123.5 421.0 L124.0 420.9 L124.5 420.8 L125.0 420.8 L125.5 420.7 L126.0 420.7 L126.5 420.6 L127.0 420.6 L127.5 420.5 L128.0 420.4 L128.5 420.3 L128.7 420.2 L129.0 420.0 L129.5 419.1 L130.0 417.8 L130.5 416.1 L131.0 414.3 L131.5 412.5 L132.0 410.9 L132.5 409.6 L133.0 408.8 L133.1 408.7 L133.5 408.4 L134.0 408.1 L134.5 407.8 L135.0 407.7 L135.5 407.6 L136.0 407.6 L136.5 407.7 L136.7 407.8 L137.0 408.0 L137.5 408.4 L138.0 409.0 L138.5 409.6 L139.0 410.4 L139.5 411.1 L140.0 411.8 L140.5 412.5 L141.0 413.0 L141.1 413.1 L141.5 413.5 L142.0 413.9 L142.5 414.4 L143.0 414.8 L143.5 415.2 L144.0 415.6 L144.5 416.0 L145.0 416.3 L145.5 416.6 L146.0 416.9 L146.5 417.0 L147.0 417.2 L147.3 417.2 L147.5 417.2 L148.0 417.1 L148.5 417.0 L149.0 416.8 L149.5 416.5 L150.0 416.2 L150.5 415.9 L151.0 415.6 L151.5 415.3 L152.0 415.1 L152.5 414.9 L152.7 414.9 L153.0 414.9 L153.5 415.0 L154.0 415.1 L154.5 415.3 L155.0 415.6 L155.5 415.8 L156.0 415.9 L156.5 415.9 L157.0 415.8 L157.1 415.8 L157.5 415.5 L158.0 414.7 L158.5 413.6 L159.0 412.2 L159.5 410.6 L160.0 408.9 L160.5 407.2 L161.0 405.5 L161.5 403.9 L162.0 402.5 L162.4 401.6 L162.5 401.4 L163.0 400.3 L163.5 399.3 L164.0 398.2 L164.5 397.1 L165.0 396.0 L165.5 394.9 L166.0 393.8 L166.5 392.8 L167.0 391.7 L167.5 390.7 L168.0 389.8 L168.5 388.9 L169.0 388.0 L169.5 387.2 L170.0 386.5 L170.5 385.8 L171.0 385.2 L171.5 384.7 L172.0 384.3 L172.5 384.0 L173.0 383.8 L173.1 383.8 L173.5 383.7 L174.0 383.7 L174.5 383.7 L175.0 383.8 L175.5 383.9 L176.0 384.0 L176.5 384.0 L177.0 384.1 L177.5 384.2 L178.0 384.1 L178.4 384.1 L178.5 384.1 L179.0 384.0 L179.5 383.8 L180.0 383.6 L180.5 383.4 L181.0 383.2 L181.5 382.9 L182.0 382.7 L182.5 382.5 L183.0 382.3 L183.5 382.1 L183.8 382.0 L184.0 381.9 L184.5 381.9 L185.0 381.8 L185.5 381.8 L186.0 381.7 L186.5 381.7 L187.0 381.7 L187.5 381.6 L188.0 381.5 L188.5 381.4 L189.0 381.2 L189.1 381.1 L189.5 380.9 L190.0 380.5 L190.5 380.1 L191.0 379.6 L191.5 379.0 L192.0 378.5 L192.5 377.9 L193.0 377.3 L193.5 376.8 L194.0 376.2 L194.4 375.8 L194.5 375.7 L195.0 375.1 L195.5 374.5 L196.0 373.9 L196.5 373.3 L197.0 372.9 L197.2 372.8 L197.5 372.8 L198.0 373.3 L198.5 374.4 L199.0 375.7 L199.5 377.1 L200.0 378.4 L200.5 379.4 L201.0 379.7 L201.5 379.4 L201.6 379.2 L202.0 378.1 L202.5 376.1 L203.0 373.5 L203.5 370.6 L204.0 367.4 L204.5 364.3 L205.0 361.3 L205.1 360.7 L205.5 358.2 L206.0 354.4 L206.5 350.7 L207.0 347.8 L207.5 346.2 L207.6 346.1 L208.0 346.5 L208.5 348.1 L209.0 350.7 L209.5 353.5 L210.0 356.0 L210.5 358.4 L211.0 360.9 L211.5 363.5 L212.0 365.8 L212.5 367.7 L213.0 369.1 L213.5 370.1 L214.0 370.7 L214.3 370.8 L214.5 370.8 L215.0 370.6 L215.5 370.1 L216.0 369.5 L216.5 368.8 L217.0 368.3 L217.5 368.1 L217.9 368.2 L218.0 368.3 L218.5 368.8 L219.0 369.7 L219.5 370.7 L220.0 371.9 L220.5 373.2 L221.0 374.5 L221.5 375.8 L222.0 377.2 L222.5 378.8 L223.0 380.7 L223.5 382.6 L224.0 384.7 L224.5 386.7 L225.0 388.7 L225.5 390.5 L226.0 392.2 L226.5 393.6 L227.0 394.7 L227.5 395.4 L227.8 395.6 L228.0 395.6 L228.5 395.4 L229.0 394.6 L229.5 393.5 L230.0 392.3 L230.5 390.9 L231.0 389.5 L231.5 388.3 L232.0 387.4 L232.3 387.0 L232.5 386.8 L233.0 386.5 L233.5 386.2 L234.0 386.0 L234.5 385.8 L235.0 385.5 L235.5 385.0 L236.0 384.1 L236.5 382.7 L237.0 380.8 L237.5 378.5 L238.0 376.0 L238.5 372.6 L239.0 368.0 L239.5 362.5 L240.0 356.6 L240.5 350.6 L241.0 344.8 L241.5 339.7 L242.0 335.7 L242.2 334.4 L242.5 332.7 L243.0 330.2 L243.5 328.0 L244.0 326.2 L244.5 325.0 L245.0 324.2 L245.4 324.0 L245.5 324.0 L246.0 324.5 L246.5 325.6 L247.0 327.2 L247.5 329.2 L248.0 331.7 L248.5 334.4 L249.0 338.2 L249.5 343.3 L250.0 349.2 L250.5 355.4 L251.0 361.3 L251.5 366.3 L252.0 369.9 L252.1 370.4 L252.5 372.1 L253.0 374.0 L253.5 375.6 L254.0 376.8 L254.5 377.7 L254.8 378.0 L255.0 378.2 L255.5 378.5 L256.0 378.9 L256.5 379.2 L257.0 379.4 L257.5 379.6 L258.0 379.6 L258.5 379.6 L259.0 379.5 L259.3 379.4 L259.5 379.3 L260.0 378.6 L260.5 377.4 L261.0 375.9 L261.5 374.1 L262.0 372.2 L262.5 369.9 L263.0 367.0 L263.5 363.6 L264.0 360.0 L264.5 356.2 L265.0 351.9 L265.5 347.1 L266.0 341.5 L266.5 335.0 L267.0 326.7 L267.5 317.1 L268.0 308.0 L268.5 299.8 L269.0 292.0 L269.5 285.0 L270.0 278.1 L270.5 271.4 L271.0 266.0 L271.5 263.0 L271.9 263.3 L272.0 263.8 L272.5 267.5 L273.0 272.9 L273.5 279.3 L274.0 285.9 L274.5 291.9 L274.6 293.0 L275.0 297.0 L275.5 301.9 L276.0 306.7 L276.5 311.6 L277.0 316.7 L277.3 320.0 L277.5 322.8 L278.0 330.9 L278.2 332.6 L278.5 333.7 L279.0 335.0 L279.5 335.8 L280.0 336.2 L280.5 336.4 L281.0 336.8 L281.5 337.4 L281.8 338.0 L282.0 338.5 L282.5 339.8 L283.0 341.2 L283.5 342.8 L284.0 344.7 L284.5 347.0 L285.0 350.6 L285.5 355.8 L286.0 361.8 L286.5 367.7 L287.0 372.5 L287.2 374.0 L287.5 375.9 L288.0 378.6 L288.5 380.8 L289.0 382.3 L289.5 383.0 L290.0 382.6 L290.5 381.1 L291.0 378.7 L291.5 375.5 L291.7 374.0 L292.0 371.5 L292.5 366.3 L293.0 360.1 L293.5 352.9 L294.0 344.9 L294.4 338.0 L294.5 336.2 L295.0 326.0 L295.3 320.0 L295.5 316.0 L296.0 306.1 L296.5 298.4 L297.0 293.8 L297.5 290.9 L298.0 289.4 L298.5 289.0 L298.9 289.4 L299.0 289.6 L299.5 290.9 L300.0 292.9 L300.5 295.4 L301.0 298.2 L301.5 301.4 L301.6 302.0 L302.0 304.7 L302.5 308.3 L303.0 312.1 L303.5 316.0 L304.0 320.0 L304.5 324.5 L305.0 329.5 L305.5 334.2 L306.0 337.6 L306.1 338.0 L306.5 339.4 L307.0 340.6 L307.5 341.0 L308.0 340.4 L308.5 338.7 L308.8 337.0 L309.0 335.4 L309.5 329.5 L310.0 322.6 L310.2 320.0 L310.5 316.3 L311.0 310.1 L311.5 303.9 L312.0 297.8 L312.4 293.0 L312.5 291.8 L313.0 285.6 L313.5 279.1 L314.0 272.8 L314.5 267.0 L315.0 262.2 L315.5 258.7 L316.0 257.0 L316.5 258.0 L317.0 261.8 L317.5 267.6 L318.0 274.4 L318.5 281.4 L318.7 284.0 L319.0 287.9 L319.5 294.9 L320.0 302.1 L320.2 305.0 L320.5 309.6 L321.0 317.4 L321.5 325.0 L322.0 332.5 L322.5 340.1 L323.0 347.0 L323.5 352.2 L324.0 354.9 L324.1 355.1 L324.5 355.1 L325.0 354.3 L325.5 352.8 L326.0 350.6 L326.5 348.1 L327.0 345.3 L327.5 342.6 L327.7 341.6 L328.0 340.1 L328.5 337.5 L329.0 334.9 L329.5 332.1 L330.0 329.1 L330.5 325.9 L331.0 322.3 L331.3 320.0 L331.5 318.3 L332.0 313.8 L332.5 308.9 L333.0 303.6 L333.5 298.3 L334.0 293.0 L334.5 287.9 L334.9 284.0 L335.0 283.1 L335.5 278.4 L336.0 273.9 L336.5 269.5 L337.0 265.3 L337.5 261.3 L337.6 260.6 L338.0 257.7 L338.5 254.2 L339.0 251.2 L339.5 248.6 L340.0 246.8 L340.5 245.9 L340.6 245.8 L341.0 246.5 L341.5 249.5 L342.0 254.3 L342.5 260.5 L343.0 267.6 L343.5 275.0 L344.0 284.2 L344.5 295.4 L345.0 306.4 L345.5 315.0 L346.0 321.2 L346.5 326.5 L347.0 331.1 L347.5 335.0 L348.0 338.7 L348.5 342.1 L349.0 344.5 L349.4 345.1 L349.5 345.1 L350.0 344.5 L350.5 343.2 L351.0 341.4 L351.5 339.1 L352.0 336.5 L352.5 333.6 L353.0 330.5 L353.4 328.0 L353.5 327.4 L354.0 323.6 L354.5 319.6 L355.0 316.0 L355.5 313.0 L356.0 310.1 L356.5 307.6 L357.0 305.6 L357.5 303.9 L358.0 302.2 L358.5 300.7 L359.0 299.4 L359.5 298.3 L360.0 297.5 L360.5 296.9 L361.0 296.6 L361.5 296.6 L362.0 296.9 L362.5 297.4 L363.0 297.8 L363.5 298.2 L364.0 298.4 L364.2 298.4 L364.5 298.3 L365.0 297.9 L365.5 297.3 L366.0 296.5 L366.5 295.6 L366.9 294.8 L367.0 294.6 L367.5 292.8 L368.0 290.2 L368.5 287.1 L369.0 283.9 L369.5 280.9 L370.0 278.7 L370.5 277.5 L371.0 277.7 L371.5 279.1 L372.0 281.0 L372.5 283.4 L373.0 285.9 L373.5 288.4 L374.0 290.8 L374.1 291.2 L374.5 293.1 L375.0 295.6 L375.5 298.2 L376.0 300.5 L376.5 302.2 L376.8 302.9 L377.0 303.1 L377.5 302.4 L378.0 300.5 L378.5 297.9 L379.0 295.2 L379.5 293.0 L380.0 291.2 L380.5 289.3 L381.0 287.4 L381.5 285.5 L382.0 283.7 L382.5 282.1 L383.0 280.7 L383.1 280.4 L383.5 279.5 L384.0 278.5 L384.5 277.8 L385.0 277.3 L385.5 277.2 L385.8 277.2 L386.0 277.3 L386.5 277.6 L387.0 278.0 L387.5 278.5 L388.0 279.1 L388.5 279.7 L389.0 280.4 L389.5 281.2 L390.0 282.0 L390.5 282.8 L391.0 283.7 L391.2 284.0 L391.5 284.5 L392.0 285.3 L392.5 286.2 L393.0 287.1 L393.5 288.1 L394.0 289.1 L394.5 290.2 L395.0 291.3 L395.5 292.5 L395.7 293.0 L396.0 293.8 L396.5 295.2 L397.0 296.7 L397.5 298.4 L398.0 300.3 L398.5 302.2 L399.0 304.3 L399.3 305.6 L399.5 306.5 L400.0 308.9 L400.5 311.5 L401.0 314.2 L401.5 317.1 L402.0 320.0 L402.5 323.1 L403.0 326.5 L403.5 329.8 L403.8 331.6 L404.0 332.7 L404.5 335.6 L405.0 338.4 L405.5 340.9 L406.0 342.9 L406.5 344.3 L406.9 344.7 L407.0 344.7 L407.5 344.3 L408.0 343.2 L408.5 341.7 L409.0 340.2 L409.5 338.9 L410.0 338.0 L410.1 337.9 L410.5 337.6 L411.0 337.4 L411.5 337.2 L412.0 337.1 L412.5 337.0 L413.0 336.9 L413.5 336.7 L414.0 336.5 L414.5 336.2 L414.6 336.1 L415.0 335.6 L415.5 334.6 L416.0 333.2 L416.5 331.5 L417.0 329.7 L417.5 328.0 L418.0 326.3 L418.5 324.9 L419.0 323.9 L419.5 323.4 L420.0 323.5 L420.5 324.2 L421.0 325.2 L421.5 326.6 L422.0 328.2 L422.5 329.8 L423.0 331.5 L423.5 333.1 L423.6 333.4 L424.0 334.7 L424.5 336.5 L425.0 338.4 L425.5 340.1 L426.0 341.4 L426.3 342.0 L426.5 342.2 L427.0 342.5 L427.5 342.4 L428.0 342.0 L428.5 341.5 L429.0 341.0 L429.5 340.6 L430.0 340.4 L430.5 340.6 L430.8 341.0 L431.0 341.4 L431.5 343.0 L432.0 345.4 L432.5 348.3 L433.0 351.3 L433.5 354.3 L434.0 356.9 L434.4 358.6 L434.5 359.0 L435.0 360.8 L435.5 362.6 L436.0 364.3 L436.5 366.0 L437.0 367.6 L437.5 369.1 L438.0 370.6 L438.5 371.9 L439.0 373.1 L439.5 374.2 L439.8 374.8 L440.0 375.2 L440.5 376.1 L441.0 376.9 L441.5 377.7 L442.0 378.5 L442.5 379.2 L443.0 379.8 L443.5 380.4 L444.0 380.9 L444.5 381.3 L445.0 381.6 L445.5 381.8 L446.0 382.0 L446.1 382.0 L446.5 382.0 L447.0 382.0 L447.5 381.9 L448.0 381.7 L448.5 381.4 L449.0 381.1 L449.5 380.6 L450.0 380.1 L450.5 379.4 L450.6 379.3 L451.0 378.7 L451.5 377.8 L452.0 376.7 L452.5 375.5 L453.0 374.3 L453.5 373.0 L454.0 371.6 L454.5 370.1 L455.0 368.7 L455.5 367.2 L456.0 365.8 L456.5 364.3 L457.0 362.5 L457.5 360.7 L458.0 358.9 L458.5 357.2 L459.0 355.6 L459.5 354.3 L459.6 354.1 L460.0 353.4 L460.5 352.7 L461.0 352.4 L461.5 352.2 L462.0 352.0 L462.5 351.8 L463.0 351.3 L463.5 350.7 L463.6 350.5 L464.0 349.5 L464.5 347.3 L465.0 344.3 L465.5 340.5 L465.9 337.0 L466.0 336.0 L466.5 329.8 L467.0 322.2 L467.5 314.3 L468.0 307.2 L468.1 306.0 L468.5 301.2 L469.0 295.3 L469.5 290.4 L469.9 288.0 L470.0 287.6 L470.5 285.9 L471.0 284.4 L471.5 283.2 L472.0 282.1 L472.5 281.0 L472.6 280.8 L473.0 280.0 L473.5 279.0 L474.0 278.1 L474.5 277.1 L475.0 276.1 L475.3 275.4 L475.5 274.9 L476.0 273.3 L476.5 270.7 L476.6 270.0 L477.0 263.0 L477.5 248.1 L478.0 235.0 L478.5 226.5 L479.0 218.9 L479.5 211.9 L479.8 208.0 L480.0 205.7 L480.5 201.3 L481.0 197.3 L481.5 191.6 L481.6 190.0 L482.0 175.9 L482.5 155.0 L483.0 142.6 L483.5 131.4 L484.0 121.8 L484.5 113.8 L484.8 110.0 L485.0 107.8 L485.5 102.7 L486.0 98.1 L486.5 93.8 L486.6 93.0 L487.0 89.4 L487.5 84.9 L488.0 80.8 L488.5 78.0 L488.8 77.2 L489.0 77.3 L489.5 80.0 L490.0 85.3 L490.5 91.9 L491.0 98.4 L491.5 104.7 L492.0 112.2 L492.4 120.0 L492.5 122.6 L493.0 143.4 L493.3 155.0 L493.5 161.0 L494.0 175.7 L494.5 188.0 L495.0 195.4 L495.3 196.5 L495.5 195.8 L496.0 191.1 L496.5 183.6 L497.0 175.0 L497.5 165.3 L498.0 154.7 L498.5 145.0 L499.0 135.7 L499.5 127.8 L500.0 125.3 L500.5 129.7 L501.0 138.3 L501.5 148.8 L502.0 159.0 L502.3 164.0 L502.5 167.0 L503.0 174.9 L503.5 182.9 L504.0 190.4 L504.5 197.0 L505.0 202.1 L505.4 204.8 L505.5 205.2 L506.0 206.0 L506.5 204.7 L507.0 201.5 L507.5 196.7 L508.0 190.6 L508.5 183.5 L508.6 182.0 L509.0 173.9 L509.5 160.2 L510.0 146.1 L510.4 137.0 L510.5 135.2 L511.0 126.4 L511.5 118.5 L512.0 112.1 L512.2 110.0 L512.5 107.2 L513.0 103.0 L513.5 99.7 L514.0 97.4 L514.5 96.2 L515.0 96.2 L515.5 97.1 L516.0 99.2 L516.5 102.2 L517.0 106.4 L517.5 111.6 L517.6 112.8 L518.0 120.0 L518.5 133.1 L519.0 146.7 L519.4 155.0 L519.5 156.5 L520.0 163.6 L520.5 169.9 L521.0 176.0 L521.5 182.0 L522.0 188.6 L522.1 190.0 L522.5 195.9 L523.0 203.7 L523.5 211.3 L523.9 217.0 L524.0 218.4 L524.5 225.2 L525.0 229.9 L525.2 230.5 L525.5 230.4 L526.0 228.6 L526.5 225.4 L527.0 221.3 L527.5 217.0 L528.0 212.5 L528.5 207.5 L529.0 202.2 L529.3 199.0 L529.5 196.6 L530.0 189.5 L530.4 185.6 L530.5 185.1 L531.0 183.2 L531.5 182.7 L532.0 183.8 L532.5 186.5 L532.9 190.0 L533.0 191.3 L533.5 204.6 L534.0 221.0 L534.2 226.0 L534.5 231.8 L535.0 240.2 L535.5 248.0 L536.0 256.2 L536.5 266.0 L537.0 277.6 L537.5 289.8 L537.8 297.0 L538.0 301.9 L538.5 314.5 L539.0 325.8 L539.2 329.4 L539.5 333.8 L540.0 339.2 L540.5 342.8 L541.0 345.0 L541.5 346.5 L541.9 347.4 L542.0 347.6 L542.5 348.6 L543.0 349.3 L543.5 350.0 L544.0 350.8 L544.5 351.7 L544.6 351.9 L545.0 352.8 L545.5 354.0 L546.0 355.4 L546.5 356.7 L547.0 358.1 L547.5 359.4 L548.0 360.6 L548.5 361.8 L548.6 362.0 L549.0 362.9 L549.5 363.9 L550.0 364.9 L550.5 365.9 L551.0 366.7 L551.5 367.4 L552.0 368.0 L552.5 368.3 L552.7 368.4 L553.0 368.4 L553.5 367.9 L554.0 367.0 L554.5 365.8 L555.0 364.5 L555.4 363.4 L555.5 363.1 L556.0 361.3 L556.5 359.0 L557.0 356.4 L557.5 353.8 L558.0 351.6 L558.5 349.8 L559.0 348.8 L559.5 348.5 L560.0 348.4 L560.5 348.6 L561.0 348.9 L561.5 349.2 L562.0 349.3 L562.5 349.2 L562.6 349.2 L563.0 348.8 L563.5 347.7 L564.0 346.3 L564.4 345.0 L564.5 344.7 L565.0 342.4 L565.5 339.2 L566.0 335.0 L566.2 333.0 L566.5 329.4 L567.0 321.6 L567.5 312.1 L568.0 301.4 L568.5 290.0 L569.0 277.8 L569.5 264.9 L569.8 257.0 L570.0 251.6 L570.5 237.4 L571.0 223.2 L571.5 210.3 L571.6 208.0 L572.0 200.0 L572.5 192.1 L573.0 185.0 L573.5 177.8 L574.0 171.3 L574.5 166.8 L574.7 165.8 L575.0 165.8 L575.5 170.1 L576.0 178.4 L576.4 187.0 L576.5 189.6 L577.0 208.0 L577.5 226.0 L578.0 239.0 L578.5 250.9 L579.0 261.7 L579.5 271.4 L579.7 275.0 L580.0 280.3 L580.5 288.9 L581.0 296.2 L581.5 300.9 L581.8 302.0 L582.0 302.0 L582.5 300.4 L583.0 296.7 L583.5 291.6 L583.8 288.0 L584.0 285.4 L584.5 277.8 L585.0 269.6 L585.1 268.0 L585.5 261.4 L586.0 253.0 L586.5 244.5 L587.0 236.0 L587.5 227.3 L588.0 218.3 L588.5 208.9 L588.7 205.0 L589.0 198.7 L589.5 187.2 L590.0 175.2 L590.5 164.0 L591.0 153.8 L591.5 143.9 L592.0 134.0 L592.3 128.0 L592.5 123.8 L593.0 113.2 L593.4 105.0 L593.5 103.0 L594.0 93.6 L594.3 90.8 L594.5 90.4 L595.0 91.3 L595.5 94.1 L596.0 98.3 L596.5 103.1 L596.8 106.0 L597.0 108.1 L597.5 114.4 L598.0 121.1 L598.5 127.0 L598.6 128.0 L599.0 131.7 L599.5 135.6 L600.0 137.8 L600.2 137.8 L600.5 137.0 L601.0 134.2 L601.5 130.3 L602.0 126.1 L602.5 122.5 L602.7 121.4 L603.0 120.0 L603.5 117.5 L604.0 115.3 L604.5 113.4 L605.0 112.3 L605.4 112.0 L605.5 112.1 L606.0 113.4 L606.5 116.1 L607.0 119.7 L607.5 123.9 L607.6 124.7 L608.0 128.3 L608.5 133.4 L609.0 138.8 L609.5 144.1 L610.0 149.1 L610.1 150.0 L610.5 153.6 L611.0 158.0 L611.5 162.1 L612.0 166.0 L612.5 169.8 L613.0 172.4 L613.1 172.6 L613.5 172.7 L614.0 171.3 L614.5 168.5 L615.0 164.7 L615.5 160.0 L616.0 154.2 L616.5 147.4 L617.0 140.7 L617.1 139.4 L617.5 134.2 L618.0 127.6 L618.5 121.6 L618.9 117.8 L619.0 117.1 L619.5 114.4 L620.0 113.5 L620.3 113.8 L620.5 114.4 L621.0 116.5 L621.5 119.3 L622.0 122.3 L622.5 125.0 L623.0 127.6 L623.5 130.2 L624.0 132.3 L624.3 133.1 L624.5 133.5 L625.0 133.9 L625.5 134.0 L626.0 133.9 L626.5 133.8 L627.0 134.0 L627.5 134.5 L628.0 135.3 L628.5 136.5 L628.8 137.6 L629.0 138.5 L629.5 142.0 L630.0 146.5 L630.5 151.1 L630.6 152.0 L631.0 155.5 L631.5 159.9 L632.0 165.1 L632.4 170.0 L632.5 171.7 L633.0 185.6 L633.3 192.4 L633.5 195.1 L634.0 201.4 L634.5 207.0 L635.0 212.3 L635.5 217.5 L636.0 223.0 L636.5 228.7 L637.0 234.5 L637.5 240.2 L638.0 246.0 L638.5 251.7 L638.7 254.0 L639.0 257.5 L639.5 263.5 L640.0 269.6 L640.5 275.5 L641.0 281.0 L641.4 285.0 L641.5 285.9 L642.0 290.1 L642.5 293.4 L643.0 295.7 L643.5 297.1 L643.6 297.2 L644.0 297.6 L644.5 298.0 L645.0 298.3 L645.5 298.5 L645.9 298.5 L646.0 298.5 L646.5 298.3 L647.0 297.8 L647.5 297.4 L648.0 297.2 L648.2 297.2 L648.5 297.6 L649.0 299.3 L649.5 302.1 L650.0 305.5 L650.4 308.4 L650.5 309.1 L651.0 313.6 L651.5 318.8 L652.0 324.3 L652.5 329.6 L653.0 334.2 L653.1 335.0 L653.5 338.1 L654.0 341.8 L654.5 344.9 L655.0 347.1 L655.4 347.9 L655.5 348.0 L656.0 347.7 L656.5 346.7 L657.0 345.1 L657.5 343.0 L658.0 340.6 L658.5 338.0 L659.0 335.1 L659.5 331.7 L660.0 327.4 L660.5 322.0 L661.0 315.0 L661.2 312.0 L661.5 307.6 L662.0 300.2 L662.5 292.7 L663.0 285.0 L663.5 277.2 L664.0 269.1 L664.5 260.1 L664.8 254.0 L665.0 248.3 L665.5 228.8 L665.7 223.0 L666.0 216.8 L666.5 208.0 L667.0 201.1 L667.5 196.0 L668.0 191.6 L668.5 189.0 L668.8 189.7 L669.0 191.3 L669.5 197.3 L670.0 205.0 L670.5 212.6 L670.6 214.0 L671.0 219.4 L671.5 226.0 L672.0 232.0 L672.5 237.2 L673.0 241.5 L673.5 243.7 L673.8 243.7 L674.0 242.7 L674.5 236.1 L675.0 226.7 L675.2 223.0 L675.5 217.0 L676.0 205.7 L676.5 196.0 L677.0 188.9 L677.5 184.6 L677.8 184.3 L678.0 185.4 L678.5 192.0 L679.0 201.3 L679.2 205.0 L679.5 210.5 L680.0 220.4 L680.5 233.0 L680.6 236.0 L681.0 251.6 L681.5 276.0 L682.0 302.5 L682.3 320.0 L682.5 334.5 L682.8 356.0 L683.0 366.2 L683.5 381.6 L683.6 382.1 L684.0 379.7 L684.5 371.7 L684.8 365.0 L685.0 359.8 L685.5 344.4 L686.0 329.0 L686.5 315.0 L687.0 301.6 L687.3 294.0 L687.5 289.1 L688.0 277.7 L688.5 268.5 L688.6 267.0 L689.0 261.7 L689.5 257.3 L690.0 257.1 L690.5 262.3 L691.0 270.2 L691.4 276.0 L691.5 277.2 L692.0 283.5 L692.5 289.5 L693.0 294.4 L693.2 295.8 L693.5 297.4 L694.0 299.2 L694.5 300.1 L695.0 300.3 L695.5 299.6 L696.0 297.8 L696.5 295.5 L697.0 293.2 L697.5 291.6 L698.0 291.2 L698.1 291.3 L698.5 292.5 L699.0 295.6 L699.5 299.6 L699.9 303.0 L700.0 303.8 L700.5 308.3 L701.0 313.3 L701.5 318.7 L701.7 321.0 L702.0 324.9 L702.5 332.6 L703.0 340.4 L703.5 347.0 L704.0 352.3 L704.5 357.1 L705.0 361.5 L705.5 365.5 L706.0 369.1 L706.2 370.4 L706.5 372.3 L707.0 375.4 L707.5 378.2 L708.0 380.8 L708.5 383.1 L708.9 384.8 L709.0 385.2 L709.5 387.1 L710.0 388.9 L710.5 390.3 L711.0 391.2 L711.5 391.6 L711.6 391.6 L712.0 390.7 L712.5 387.6 L713.0 383.2 L713.4 379.4 L713.5 378.4 L714.0 373.3 L714.5 367.1 L715.0 359.5 L715.2 356.0 L715.5 350.2 L716.0 339.4 L716.5 327.7 L717.0 316.0 L717.5 303.3 L718.0 289.8 L718.5 277.9 L718.8 272.4 L719.0 269.5 L719.5 263.6 L720.0 259.6 L720.5 257.6 L721.0 257.4 L721.5 258.9 L722.0 262.6 L722.5 268.3 L723.0 275.0 L723.5 282.0 L724.0 288.3 L724.2 290.4 L724.5 293.4 L725.0 298.4 L725.5 302.9 L726.0 306.6 L726.5 309.5 L727.0 311.9 L727.5 313.4 L728.0 313.4 L728.2 312.9 L728.5 311.6 L729.0 308.1 L729.5 303.6 L730.0 298.7 L730.5 294.0 L731.0 288.8 L731.5 282.8 L732.0 277.3 L732.5 273.4 L732.8 272.4 L733.0 272.5 L733.5 275.4 L734.0 281.0 L734.5 287.7 L735.0 294.0 L735.5 300.1 L736.0 306.7 L736.5 312.7 L736.8 315.6 L737.0 317.2 L737.5 320.7 L738.0 322.9 L738.5 323.0 L738.6 322.8 L739.0 320.5 L739.5 315.2 L740.0 308.4 L740.4 303.0 L740.5 301.6 L741.0 293.9 L741.5 285.6 L742.0 278.3 L742.2 276.0 L742.5 272.9 L743.0 268.2 L743.5 264.3 L744.0 261.5 L744.5 260.3 L745.0 260.8 L745.1 261.2 L745.5 263.7 L746.0 268.5 L746.5 274.0 L746.7 276.0 L747.0 278.9 L747.5 283.8 L748.0 288.7 L748.5 293.7 L749.0 298.8 L749.4 303.0 L749.5 304.1 L750.0 309.8 L750.5 316.0 L750.8 320.0 L751.0 323.0 L751.5 331.7 L752.0 340.2 L752.1 341.6 L752.5 346.9 L753.0 352.7 L753.5 357.8 L753.9 361.4 L754.0 362.2 L754.5 366.3 L755.0 369.9 L755.5 372.6 L756.0 373.7 L756.2 373.6 L756.5 372.8 L757.0 369.7 L757.5 365.2 L758.0 360.0 L758.4 356.0 L758.5 355.0 L759.0 350.1 L759.5 344.5 L760.0 337.6 L760.2 334.4 L760.5 325.0 L761.0 305.1 L761.1 303.0 L761.5 297.5 L762.0 292.3 L762.5 288.7 L762.9 286.8 L763.0 286.4 L763.5 284.7 L764.0 283.1 L764.5 282.0 L765.0 281.7 L765.1 281.8 L765.5 282.5 L766.0 284.1 L766.5 285.9 L767.0 287.7 L767.4 288.6 L767.5 288.8 L768.0 289.4 L768.5 289.9 L769.0 290.2 L769.5 290.6 L770.0 290.9 L770.5 291.5 L771.0 292.2 L771.5 293.3 L772.0 295.0 L772.5 297.5 L772.8 299.4 L773.0 300.9 L773.5 305.5 L774.0 310.6 L774.5 316.0 L774.6 317.0 L775.0 321.2 L775.5 326.5 L776.0 331.9 L776.4 336.0 L776.5 337.0 L777.0 342.2 L777.5 347.1 L778.0 351.1 L778.2 352.4 L778.5 354.0 L779.0 356.1 L779.5 357.6 L780.0 358.6 L780.4 359.2 L780.5 359.3 L781.0 359.7 L781.5 359.8 L782.0 359.9 L782.5 360.1 L783.0 360.7 L783.2 361.0 L783.5 361.7 L784.0 363.4 L784.5 365.3 L785.0 367.2 L785.4 368.6 L785.5 368.9 L786.0 370.5 L786.5 372.0 L787.0 373.5 L787.5 375.0 L788.0 376.3 L788.5 377.5 L789.0 378.5 L789.5 379.4 L790.0 380.1 L790.5 380.8 L791.0 381.3 L791.5 381.7 L792.0 382.0 L792.5 382.1 L792.6 382.1 L793.0 382.1 L793.5 381.9 L794.0 381.5 L794.5 381.1 L795.0 380.7 L795.5 380.2 L796.0 379.8 L796.5 379.6 L797.0 379.5 L797.1 379.5 L797.5 379.6 L798.0 379.9 L798.5 380.3 L799.0 380.9 L799.5 381.6 L799.8 382.1 L800.0 382.5 L800.5 383.5 L801.0 384.8 L801.5 386.1 L802.0 387.5 L802.5 388.9 L803.0 390.2 L803.4 391.1 L803.5 391.3 L804.0 392.4 L804.5 393.5 L805.0 394.6 L805.5 395.6 L806.0 396.6 L806.5 397.5 L806.7 397.8 L807.0 398.3 L807.5 399.1 L808.0 399.8 L808.5 400.5 L809.0 401.1 L809.5 401.7 L810.0 402.3 L810.5 402.8 L811.0 403.2 L811.1 403.3 L811.5 403.6 L812.0 403.9 L812.5 404.1 L813.0 404.3 L813.5 404.5 L814.0 404.7 L814.5 404.9 L815.0 405.1 L815.5 405.3 L816.0 405.6 L816.5 405.9 L816.7 406.1 L817.0 406.4 L817.5 406.9 L818.0 407.5 L818.5 408.2 L819.0 408.8 L819.5 409.4 L820.0 410.0 L820.5 410.5 L821.0 411.1 L821.5 411.6 L822.0 412.1 L822.5 412.5 L823.0 412.7 L823.3 412.8 L823.5 412.8 L824.0 412.8 L824.5 412.7 L825.0 412.7 L825.5 412.6 L826.0 412.5 L826.5 412.4 L827.0 412.3 L827.5 412.2 L827.8 412.2 L828.0 412.2 L828.5 412.2 L829.0 412.2 L829.5 412.2 L830.0 412.2 L830.5 412.2 L831.0 412.2 L831.5 412.2 L832.0 412.2 L832.5 412.2 L832.8 412.2 L833.0 412.2 L833.5 411.9 L834.0 411.5 L834.5 411.0 L835.0 410.5 L835.5 409.9 L836.0 409.5 L836.5 409.2 L837.0 409.1 L837.2 409.1 L837.5 409.2 L838.0 409.6 L838.5 410.2 L839.0 410.8 L839.5 411.5 L840.0 412.2 L840.5 412.9 L841.0 413.6 L841.5 414.3 L842.0 415.0 L842.5 415.7 L843.0 416.4 L843.3 416.7 L843.5 416.9 L844.0 417.4 L844.5 417.9 L845.0 418.3 L845.5 418.7 L846.0 419.1 L846.5 419.3 L846.7 419.4 L847.0 419.5 L847.5 419.6 L848.0 419.6 L848.5 419.7 L849.0 419.6 L849.5 419.6 L850.0 419.7 L850.5 419.8 L851.0 420.0 L851.1 420.0 L851.5 420.3 L852.0 420.8 L852.5 421.4 L853.0 422.1 L853.5 422.8 L854.0 423.5 L854.4 423.9 L854.5 424.0 L855.0 424.5 L855.5 424.9 L856.0 425.3 L856.5 425.5 L856.7 425.6 L857.0 425.6 L857.5 425.6 L858.0 425.5 L858.5 425.4 L859.0 425.2 L859.4 425.0 L859.5 424.9 L860.0 424.5 L860.5 424.0 L861.0 423.4 L861.5 422.9 L862.0 422.5 L862.2 422.4 L862.5 422.3 L863.0 422.2 L863.5 422.1 L864.0 422.0 L864.5 422.0 L865.0 422.0 L865.5 422.0 L866.0 422.1 L866.5 422.2 L866.7 422.2 L867.0 422.3 L867.5 422.6 L868.0 422.9 L868.5 423.3 L869.0 423.7 L869.5 424.1 L870.0 424.4 L870.5 424.6 L871.0 424.9 L871.5 425.1 L872.0 425.3 L872.5 425.5 L872.8 425.6" fill="none" stroke="#cc00cc" stroke-width="2.2" stroke-linejoin="round" stroke-linecap="round"/>
<rect x="68.5" y="35.5" width="820" height="391" fill="none" stroke="#6c6c6c" stroke-width="1" shape-rendering="crispEdges"/>
<line x1="64.5" y1="35" x2="64.5" y2="427" class="a"/>
<line x1="68" y1="430.5" x2="889" y2="430.5" class="a"/>
<line x1="98.5" y1="430" x2="98.5" y2="433" class="a"/><line x1="158.5" y1="430" x2="158.5" y2="433" class="a"/><line x1="217.5" y1="430" x2="217.5" y2="433" class="a"/><line x1="277.5" y1="430" x2="277.5" y2="433" class="a"/><line x1="336.5" y1="430" x2="336.5" y2="433" class="a"/><line x1="396.5" y1="430" x2="396.5" y2="433" class="a"/><line x1="455.5" y1="430" x2="455.5" y2="433" class="a"/><line x1="515.5" y1="430" x2="515.5" y2="433" class="a"/><line x1="574.5" y1="430" x2="574.5" y2="433" class="a"/><line x1="634.5" y1="430" x2="634.5" y2="433" class="a"/><line x1="693.5" y1="430" x2="693.5" y2="433" class="a"/><line x1="753.5" y1="430" x2="753.5" y2="433" class="a"/><line x1="812.5" y1="430" x2="812.5" y2="433" class="a"/><line x1="872.5" y1="430" x2="872.5" y2="433" class="a"/><line x1="62" y1="426.5" x2="64" y2="426.5" class="a"/><line x1="62" y1="389.5" x2="64" y2="389.5" class="a"/><line x1="62" y1="352.5" x2="64" y2="352.5" class="a"/><line x1="62" y1="315.5" x2="64" y2="315.5" class="a"/><line x1="62" y1="278.5" x2="64" y2="278.5" class="a"/><line x1="62" y1="241.5" x2="64" y2="241.5" class="a"/><line x1="62" y1="205.5" x2="64" y2="205.5" class="a"/><line x1="62" y1="168.5" x2="64" y2="168.5" class="a"/><line x1="62" y1="131.5" x2="64" y2="131.5" class="a"/><line x1="62" y1="94.5" x2="64" y2="94.5" class="a"/><line x1="62" y1="57.5" x2="64" y2="57.5" class="a"/>
<line x1="124" y1="487.5" x2="140" y2="487.5" stroke="#cc00cc" stroke-width="2"/><circle cx="132" cy="487.5" r="1.25" fill="#cc00cc"/>
<line x1="452" y1="487.5" x2="468" y2="487.5" stroke="#0033cc" stroke-width="2"/><circle cx="460" cy="487.5" r="1.25" fill="#0033cc"/>
</svg>
<div class="xl" style="left:68.5px">07:00</div><div class="xl" style="left:128.0px">08:00</div><div class="xl" style="left:187.6px">09:00</div><div class="xl" style="left:247.1px">10:00</div><div class="xl" style="left:306.7px">11:00</div><div class="xl" style="left:366.2px">12:00</div><div class="xl" style="left:425.7px">13:00</div><div class="xl" style="left:485.3px">14:00</div><div class="xl" style="left:544.8px">15:00</div><div class="xl" style="left:604.3px">16:00</div><div class="xl" style="left:663.9px">17:00</div><div class="xl" style="left:723.4px">18:00</div><div class="xl" style="left:783.0px">19:00</div><div class="xl" style="left:842.5px">20:00</div>
<div class="yl" style="top:420px">0.0</div><div class="yl" style="top:383px">0.1</div><div class="yl" style="top:346px">0.2</div><div class="yl" style="top:309px">0.3</div><div class="yl" style="top:272px">0.4</div><div class="yl" style="top:235px">0.5</div><div class="yl" style="top:199px">0.6</div><div class="yl" style="top:162px">0.7</div><div class="yl" style="top:125px">0.8</div><div class="yl" style="top:88px">0.9</div><div class="yl" style="top:51px">1.0</div>
<div id="xlab">time</div>
<div id="ylab">Watt/Wp</div>
<div id="legend">
<span style="left:20px">SB3000TL-20-SN2100578613_21panels( 12.007 kWh )</span>
<span style="left:348px">SB3000TL-21-SN2130032031_19panels( 11.292 kWh )</span>
</div>
</body></html>
